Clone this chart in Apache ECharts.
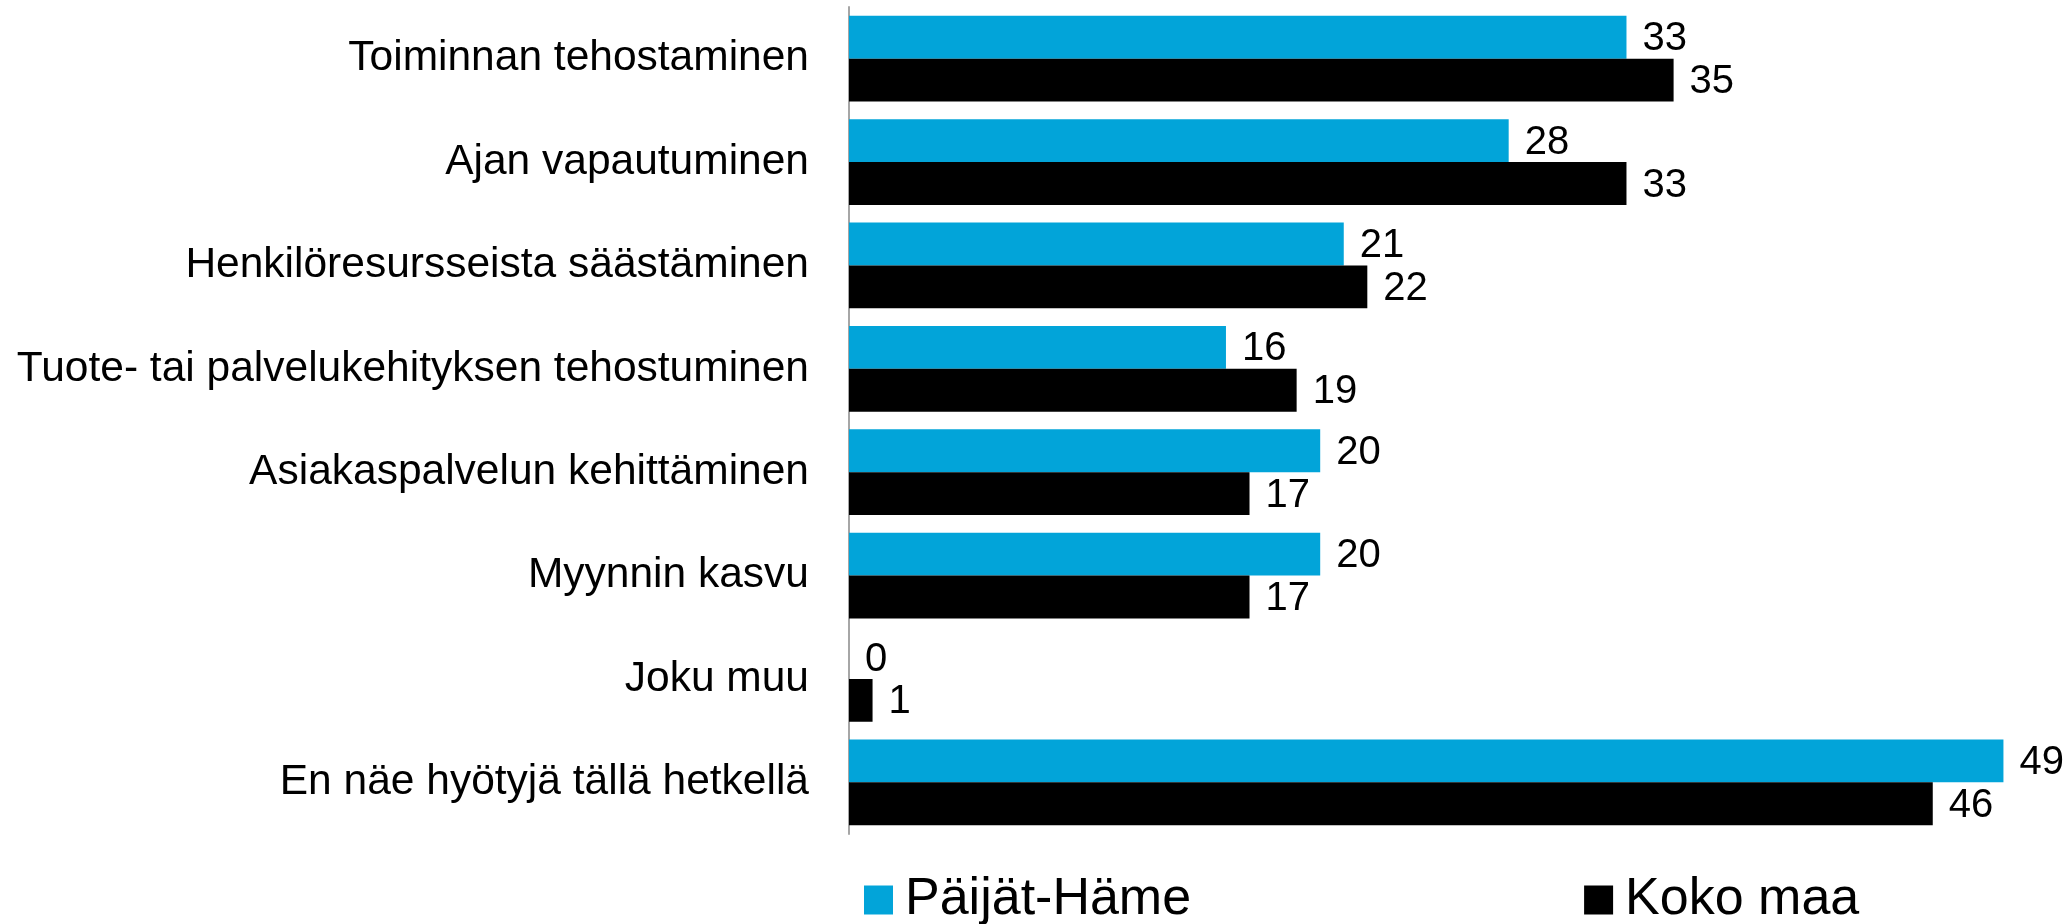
<!DOCTYPE html>
<html>
<head>
<meta charset="utf-8">
<script src="https://cdn.jsdelivr.net/npm/echarts@6/dist/echarts.min.js"></script>
<style>
  html, body { margin: 0; padding: 0; background: #fff; }
  #chart { width: 2065px; height: 924px; }
</style>
</head>
<body>
<div id="chart"></div>
<script>
const categories = [
  'Toiminnan tehostaminen',
  'Ajan vapautuminen',
  'Henkilöresursseista säästäminen',
  'Tuote- tai palvelukehityksen tehostuminen',
  'Asiakaspalvelun kehittäminen',
  'Myynnin kasvu',
  'Joku muu',
  'En näe hyötyjä tällä hetkellä'
]
const paijatHame = [33, 28, 21, 16, 20, 20, 0, 49]
const kokoMaa = [35, 33, 22, 19, 17, 17, 1, 46]

const font = 'Liberation Sans, Arial, sans-serif'
const valueLabel = {
  show: true, position: 'right', distance: 16, offset: [0, 2],
  color: '#000', fontSize: 40, fontFamily: font
}

const chart = echarts.init(document.getElementById('chart'))
chart.setOption({
  animation: false,
  grid: { left: 849, right: 38, top: 7, bottom: 90 },
  legend: {
    left: 859,
    top: 866,
    itemWidth: 29,
    itemHeight: 29,
    itemGap: 393,
    icon: 'rect',
    textStyle: { fontSize: 52, color: '#000', fontFamily: font, padding: [0, 0, 0, 7], lineHeight: 58 },
    data: ['Päijät-Häme', 'Koko maa']
  },
  xAxis: { type: 'value', min: 0, max: 50, show: false },
  yAxis: {
    type: 'category',
    data: categories,
    inverse: true,
    axisLine: { show: true, lineStyle: { color: '#a6a6a6', width: 2 } },
    axisTick: { show: false },
    axisLabel: { margin: 40, fontSize: 42.5, color: '#000', fontFamily: font }
  },
  series: [
    {
      name: 'Päijät-Häme',
      type: 'bar',
      data: paijatHame,
      barGap: '0%',
      barCategoryGap: '17%',
      itemStyle: { color: '#02a4d9' },
      label: valueLabel
    },
    {
      name: 'Koko maa',
      type: 'bar',
      data: kokoMaa,
      barGap: '0%',
      barCategoryGap: '17%',
      itemStyle: { color: '#000' },
      label: valueLabel
    }
  ]
})
</script>
</body>
</html>
